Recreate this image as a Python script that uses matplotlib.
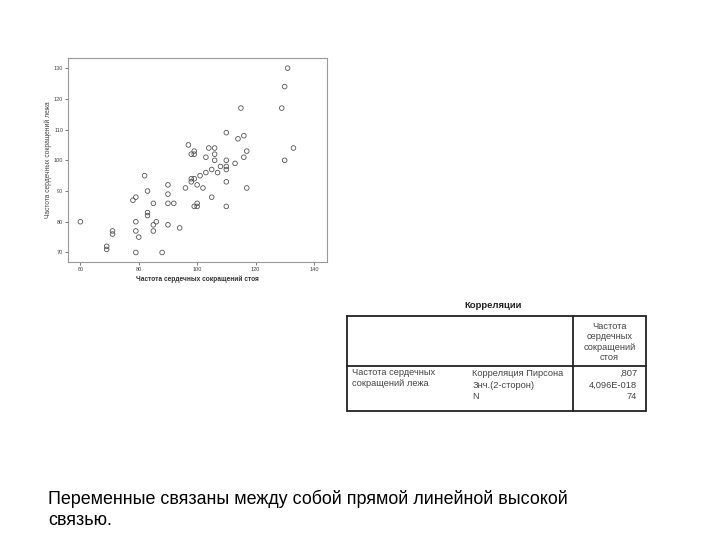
import matplotlib
matplotlib.use("Agg")
import matplotlib.pyplot as plt

plt.rcParams['font.family'] = ['Liberation Sans', 'DejaVu Sans']

# Data: (standing HR, lying HR)
standing = [131, 130, 115, 129, 110, 114, 116, 133, 97, 99, 98, 99, 104, 106, 106, 103,
            106, 110, 117, 116, 130, 113, 108, 110, 110, 105, 107, 103, 101, 82, 98, 99,
            98, 90, 100, 102, 96, 110, 117, 105, 79, 78, 83, 90, 85, 90, 92, 100, 100, 99,
            110, 83, 83, 79, 60, 86, 85, 90, 94, 71, 71, 79, 85, 80, 69, 69, 79, 88]
lying = [130, 124, 117, 117, 109, 107, 108, 104, 105, 103, 102, 102, 104, 104, 102, 101,
         100, 100, 103, 101, 100, 99, 98, 98, 97, 97, 96, 96, 95, 95, 94, 94,
         93, 92, 92, 91, 91, 93, 91, 88, 88, 87, 90, 89, 86, 86, 86, 86, 85, 85,
         85, 83, 82, 80, 80, 80, 79, 79, 78, 77, 76, 77, 77, 75, 72, 71, 70, 70]

x_ticks = [60, 80, 100, 120, 140]
y_ticks = [70, 80, 90, 100, 110, 120, 130]
x_label = "Частота сердечных сокращений стоя"
y_label = "Частота сердечных сокращений лежа"

table_title = "Корреляции"
col_header = "Частота\nсердечных\nсокращений\nстоя"
row_label = "Частота сердечных\nсокращений лежа"
stat_names = ["Корреляция Пирсона", "Знч.(2-сторон)", "N"]
stat_values = [",807", "4,096E-018", "74"]
caption = "Переменные связаны между собой прямой линейной высокой\nсвязью."

W, H = 720, 540
fig = plt.figure(figsize=(7.2, 5.4), dpi=100)

def fx(px):
    return px / W

def fy(py):
    return 1 - py / H

# Scatter axes
left, right, top, bottom = 68, 327, 58, 262
ax = fig.add_axes([fx(left), fy(bottom), (right - left) / W, (bottom - top) / H])
ax.scatter(standing, lying, s=11, facecolors='none', edgecolors='#555555', linewidths=0.6)
ax.set_xlim(55.75, 144.5)
ax.set_ylim(66.9, 133.3)
ax.set_xticks(x_ticks)
ax.set_yticks(y_ticks)
ax.tick_params(axis='both', labelsize=4, colors='#444444', length=2, width=0.5, pad=1.5)
for sp in ax.spines.values():
    sp.set_color('#999999')
    sp.set_linewidth(0.8)
ax.set_xlabel(x_label, fontsize=4.8, fontweight='bold', color='#333333', labelpad=3)
ax.set_ylabel(y_label, fontsize=4.8, color='#444444', labelpad=1.5)

# Overlay axes in pixel coordinates for table and caption
ov = fig.add_axes([0, 0, 1, 1])
ov.set_xlim(0, W)
ov.set_ylim(H, 0)
ov.axis('off')

tl, tr, tt, tb = 347, 646, 316, 411
vdiv, hdiv = 573, 366
lw = 1.3
ov.plot([tl, tr, tr, tl, tl], [tt, tt, tb, tb, tt], color='#222222', lw=lw, solid_joinstyle='miter')
ov.plot([vdiv, vdiv], [tt, tb], color='#222222', lw=lw)
ov.plot([tl, tr], [hdiv, hdiv], color='#222222', lw=lw)

fs = 6.7
ov.text(493, 305.5, table_title, fontsize=6.8, fontweight='bold', ha='center', va='center', color='#222222')
ov.text(609.5, 342, col_header, fontsize=fs, ha='center', va='center', color='#444444', linespacing=1.2)
ov.text(352, 378, row_label, fontsize=fs, ha='left', va='center', color='#444444', linespacing=1.2)
stat_y = [373.5, 385, 396.5]
for name, val, yy in zip(stat_names, stat_values, stat_y):
    ov.text(472.5, yy, name, fontsize=fs, ha='left', va='center', color='#444444')
    ov.text(637, yy, val, fontsize=fs, ha='right', va='center', color='#444444')

ov.text(48, 509, caption, fontsize=12.9, ha='left', va='center', color='#000000', linespacing=1.32)

fig.savefig("out.png", dpi=100)
